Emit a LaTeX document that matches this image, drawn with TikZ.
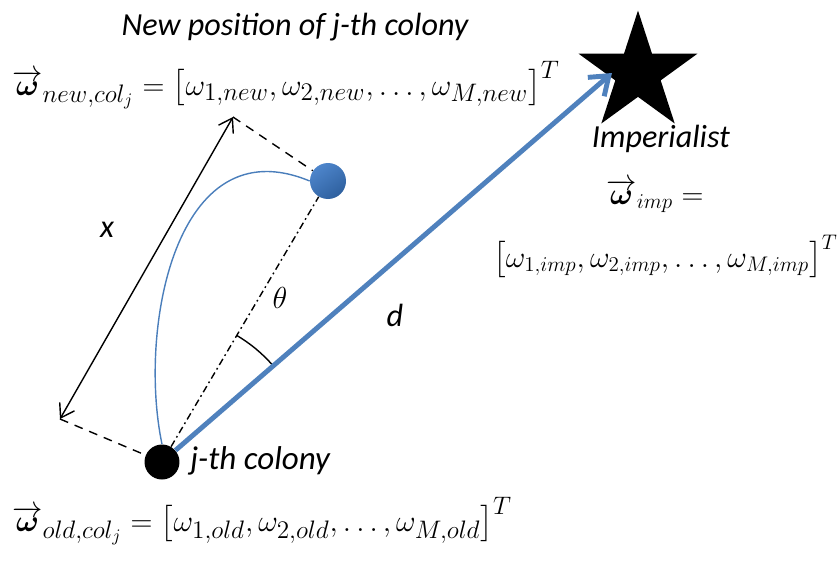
\documentclass[tikz,border=0pt]{standalone}
\usepackage{amsmath}
\usepackage{bm}
\usepackage{fontspec}
\setmainfont{Carlito}
\usetikzlibrary{arrows.meta,shapes.geometric,calc}
\definecolor{arrowblue}{HTML}{4F81BD}
\definecolor{curveblue}{HTML}{4A7EBB}
\definecolor{dotblue}{HTML}{3A78C6}
\DeclareMathSizes{18}{18}{13.5}{10}
\DeclareMathSizes{17.3}{17.3}{13}{10}
\newcommand{\wvec}{\overrightarrow{\bm{\omega}}}

\begin{document}
\begin{tikzpicture}[
      x=0.02cm, y=-0.02cm,
      lbl/.style={font=\fontsize{18.3}{22}\selectfont\itshape, inner sep=0pt},
      eqn/.style={font=\fontsize{18}{21}\selectfont, inner sep=0pt},
      eqnsm/.style={font=\fontsize{17.3}{20}\selectfont, inner sep=0pt},
      xarrow/.style={{Straight Barb[length=2.6mm,width=3.4mm]}-{Straight Barb[length=2.6mm,width=3.4mm]}, line width=0.8pt},
      barrow/.style={-{Straight Barb[length=3.4mm,width=5mm]}, color=arrowblue, line width=2.8pt},
      guide/.style={dashed, dash pattern=on 5pt off 4pt, line width=0.8pt},
    ]
      \useasboundingbox (0,0) rectangle (838,565);

      % positions
      \node[circle, shade, top color=dotblue!90!white, bottom color=dotblue!80!black,
            shading angle=35, minimum size=0.72cm, inner sep=0pt] (newpos) at (328,181) {};
      \node[circle, fill=black, minimum size=0.7cm, inner sep=0pt] (colony) at (162,462) {};
      \node[star, star points=5, star point ratio=2.62, fill=black,
            minimum size=2.5cm, inner sep=0pt] (imp) at (638,73) {};
      \coordinate (imptip) at ($(imp.center)+(-26,0)$);
      \coordinate (xlo) at (60,419);
      \coordinate (xhi) at (233,117);

      % paths
      \draw[guide] (xlo) -- (colony);
      \draw[guide] (xhi) -- (newpos);
      \draw[xarrow] (xlo) -- (xhi);
      \draw[curveblue, line width=0.8pt] (colony.north) .. controls (138,330) and (175,125) .. (newpos.west);
      \draw[dash pattern=on 4pt off 2pt on 1pt off 2pt, line width=0.8pt] (colony) -- (newpos);
      \draw[line width=0.8pt] (colony) ++(-59.4:147) arc[start angle=-59.4, end angle=-41, radius=147];
      \draw[barrow] (colony) -- (imptip);

      % labels
      \node[lbl] (title) at (295,27) {New position of j-th colony};
      \node[eqn, anchor=base west] (wnew) at (12,95)
        {$\wvec_{new,col_j}=\big[\omega_{1,new},\omega_{2,new},\dots,\omega_{M,new}\big]^T$};
      \node[lbl, anchor=base] (implbl) at (661,147) {Imperialist};
      \node[eqnsm, anchor=base] (wimp) at (655,204) {$\wvec_{imp}=$};
      \node[eqnsm, anchor=base east] (wimpv) at (838,267)
        {$\big[\omega_{1,imp},\omega_{2,imp},\dots,\omega_{M,imp}\big]^T$};
      \node[lbl, anchor=base west, font=\fontsize{18.8}{22}\selectfont\itshape] (collbl) at (190,469) {j-th colony};
      \node[eqn, anchor=base west] (wold) at (12,531)
        {$\wvec_{old,col_j}=\big[\omega_{1,old},\omega_{2,old},\dots,\omega_{M,old}\big]^T$};
      \node[lbl] (xlbl) at (107,230) {x};
      \node[lbl] (thlbl) at (280,298) {$\theta$};
      \node[lbl] (dlbl) at (395,315) {d};
    \end{tikzpicture}
\end{document}
